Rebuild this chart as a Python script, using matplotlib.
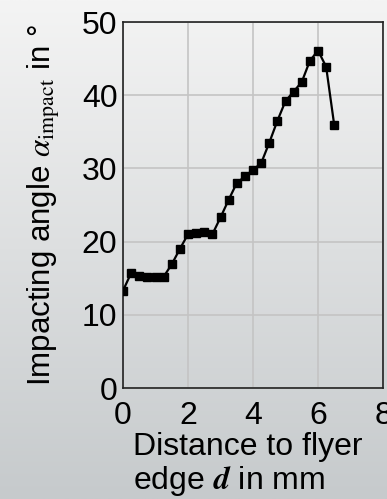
import numpy as np
import matplotlib
matplotlib.use('Agg')
import matplotlib.pyplot as plt
from matplotlib.colors import LinearSegmentedColormap

plt.rcParams['font.family'] = ['Liberation Sans', 'DejaVu Sans']
plt.rcParams['mathtext.fontset'] = 'stix'

# distance to flyer edge (mm) and impacting angle (deg)
distance = [0.0, 0.25, 0.5, 0.75, 1.0, 1.25, 1.5, 1.75, 2.0, 2.25, 2.5, 2.75,
            3.0, 3.25, 3.5, 3.75, 4.0, 4.25, 4.5, 4.75, 5.0, 5.25, 5.5, 5.75,
            6.0, 6.25, 6.5]
angle = [13.3, 15.7, 15.3, 15.2, 15.2, 15.2, 16.9, 19.0, 21.0, 21.2, 21.3, 21.0,
         23.3, 25.7, 28.0, 28.9, 29.8, 30.7, 33.5, 36.5, 39.2, 40.5, 41.8, 44.7,
         46.1, 43.9, 35.9]
xticks = [0, 2, 4, 6, 8]
yticks = [0, 10, 20, 30, 40, 50]

fig = plt.figure(figsize=(3.87, 4.99), dpi=100)

# grey gradient background
bg = fig.add_axes([0, 0, 1, 1], zorder=-10)
grad = LinearSegmentedColormap.from_list('bg', ['#f4f4f4', '#dddfe0', '#c6cacc'])
bg.imshow(np.linspace(0, 1, 256).reshape(-1, 1), aspect='auto', cmap=grad,
          extent=[0, 1, 0, 1])
bg.axis('off')

ax = fig.add_axes([123 / 387, 1 - 388 / 499, 260 / 387, 366 / 499])
ax.patch.set_alpha(0)
ax.plot(distance, angle, color='black', lw=1.6, marker='s', ms=5.5, zorder=3)

ax.set_xlim(0, 8)
ax.set_ylim(0, 50)
ax.set_xticks(xticks)
ax.set_yticks(yticks)
ax.grid(True, color='#c4c4c4', lw=1.2)
ax.set_axisbelow(True)
ax.tick_params(length=0, labelsize=23)
ax.tick_params(axis='x', pad=9)
ax.tick_params(axis='y', pad=4)
for s in ax.spines.values():
    s.set_color('#222222')
    s.set_linewidth(1.2)

ax.set_ylabel(r'Impacting angle $\alpha_{\mathrm{impact}}$ in °', fontsize=22.5,
              labelpad=14)
ax.set_xlabel('Distance to flyer\nedge $\\mathbfit{d}$ in mm', fontsize=23,
              multialignment='left', linespacing=1.1, labelpad=2)
ax.xaxis.set_label_coords(0.48, -0.12, transform=ax.transAxes)
ax.xaxis.label.set_va('top')

plt.savefig('out.png', dpi=100)
